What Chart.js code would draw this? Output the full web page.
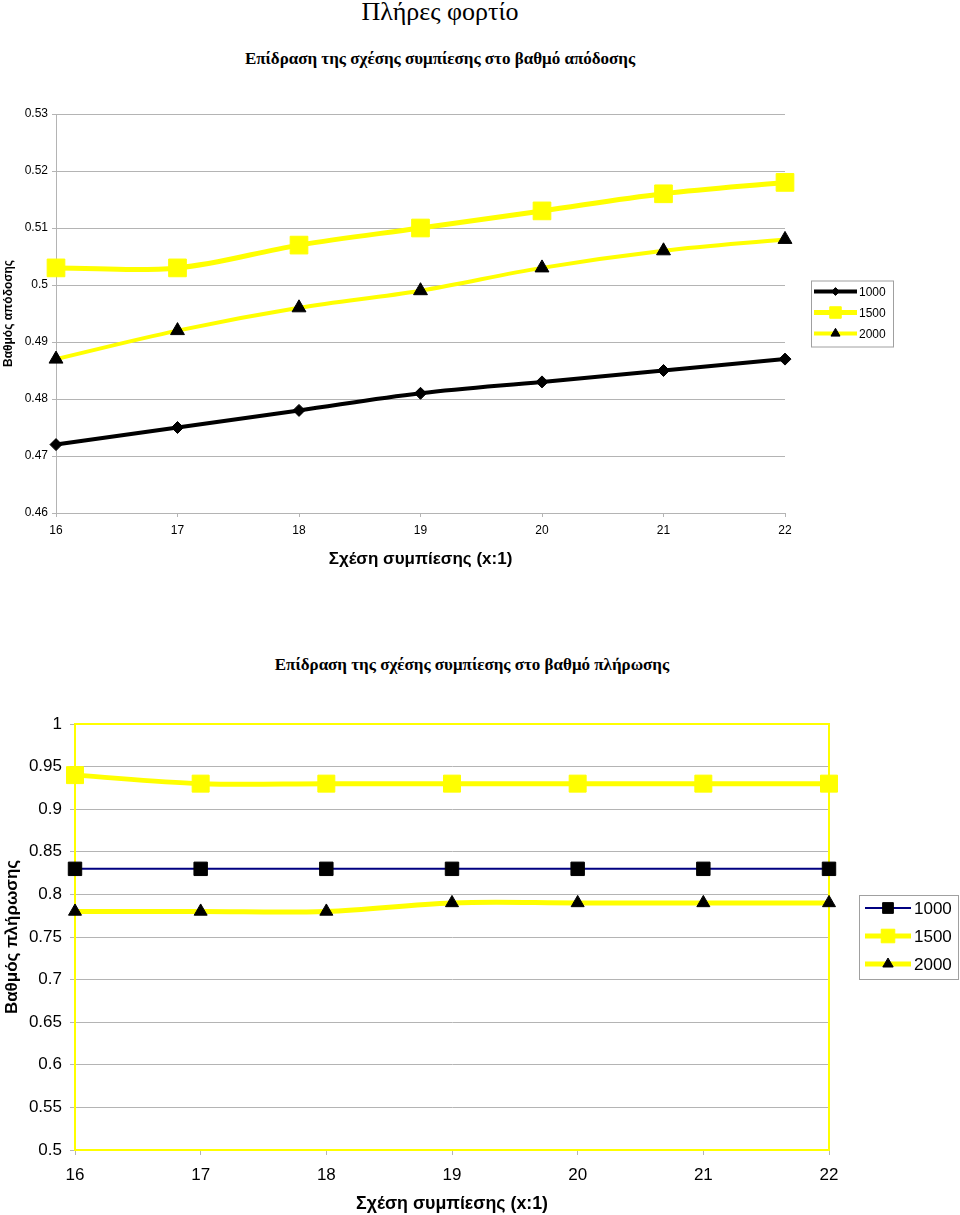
<!DOCTYPE html>
<html>
<head>
<meta charset="utf-8">
<title>Πλήρες φορτίο</title>
<script src="https://cdn.jsdelivr.net/npm/chart.js@4.4.0/dist/chart.umd.min.js"></script>
<style>
  body { margin: 0; background: #fff; width: 960px; height: 1215px; position: relative; overflow: hidden; }
  .ttl { position: absolute; left: 0; width: 880px; text-align: center; font-family: "Liberation Serif", "Times New Roman", serif; color: #000; white-space: nowrap; }
  #main { top: -1px; font-size: 26px; line-height: 26px; }
  #t1 { top: 50px; font-size: 17px; line-height: 17px; font-weight: bold; }
  #t2 { top: 656px; left: 32px; font-size: 17px; line-height: 17px; font-weight: bold; }
  canvas { position: absolute; left: 0; }
  #c1 { top: 0; }
  #c2 { top: 690px; }
</style>
</head>
<body>
<div class="ttl" id="main">Πλήρες φορτίο</div>
<div class="ttl" id="t1">Επίδραση της σχέσης συμπίεσης στο βαθμό απόδοσης</div>
<div class="ttl" id="t2">Επίδραση της σχέσης συμπίεσης στο βαθμό πλήρωσης</div>
<canvas id="c1" width="960" height="585"></canvas>
<canvas id="c2" width="960" height="525"></canvas>
<script>
// compression ratios (x:1)
const ratios = ['16', '17', '18', '19', '20', '21', '22'];
const seriesNames = ['1000', '1500', '2000'];

// efficiency (βαθμός απόδοσης)
const eff1000 = [0.472, 0.475, 0.478, 0.481, 0.483, 0.485, 0.487];
const eff1500 = [0.503, 0.503, 0.507, 0.510, 0.513, 0.516, 0.518];
const eff2000 = [0.487, 0.492, 0.496, 0.499, 0.503, 0.506, 0.508];

// volumetric efficiency (βαθμός πλήρωσης)
const fill1000 = [0.83, 0.83, 0.83, 0.83, 0.83, 0.83, 0.83];
const fill1500 = [0.94, 0.93, 0.93, 0.93, 0.93, 0.93, 0.93];
const fill2000 = [0.78, 0.78, 0.78, 0.79, 0.79, 0.79, 0.79];

const effRange = [0.46, 0.53, 0.01];
const fillRange = [0.5, 1, 0.05];

const YELLOW = '#ffff00';
const GRID = '#b4b4b4';
const SANS = '"Liberation Sans", Arial, sans-serif';

const fmt = v => String(+(+v).toFixed(2));

// legend box with line + marker, drawn to the right of the plot
const boxLegend = {
  id: 'boxLegend',
  afterDraw(chart, args, o) {
    const { ctx, chartArea } = chart;
    const sets = chart.data.datasets;
    const left = chartArea.right + o.gap;
    const top = (chartArea.top + chartArea.bottom) / 2 - o.h / 2;
    ctx.save();
    ctx.strokeStyle = '#a0a0a0';
    ctx.lineWidth = 1;
    ctx.strokeRect(left + 0.5, top + 0.5, o.w, o.h);
    sets.forEach((ds, i) => {
      const y = top + o.first + i * o.row;
      ctx.strokeStyle = ds.borderColor;
      ctx.lineWidth = ds.borderWidth;
      ctx.beginPath();
      ctx.moveTo(left + o.lineFrom, y);
      ctx.lineTo(left + o.lineTo, y);
      ctx.stroke();
      ctx.fillStyle = ds.pointBackgroundColor;
      ctx.strokeStyle = ds.pointBorderColor;
      ctx.lineWidth = 1;
      Chart.helpers.drawPoint(ctx, {
        pointStyle: ds.pointStyle, rotation: 0,
        radius: ds.pointRadius * o.markScale, borderWidth: 1
      }, left + (o.lineFrom + o.lineTo) / 2, y);
      ctx.fillStyle = '#000';
      ctx.font = o.font;
      ctx.textBaseline = 'middle';
      ctx.textAlign = 'left';
      ctx.fillText(ds.label, left + o.text, y + 1);
    });
    ctx.restore();
  }
};

// yellow frame round the plot area of the second chart
const plotFrame = {
  id: 'plotFrame',
  beforeDatasetsDraw(chart, args, o) {
    if (!o.color) return;
    const { ctx, chartArea: a } = chart;
    ctx.save();
    ctx.strokeStyle = o.color;
    ctx.lineWidth = o.width;
    ctx.strokeRect(a.left, a.top, a.right - a.left, a.bottom - a.top);
    ctx.restore();
  }
};

function mkSet(label, data, line, lw, style, r, fill) {
  return {
    label, data,
    borderColor: line, borderWidth: lw,
    pointStyle: style, pointRadius: r, pointHoverRadius: r,
    pointBackgroundColor: fill, pointBorderColor: fill, pointBorderWidth: 1,
    tension: 0.35, clip: false, fill: false
  };
}

function mkOptions(range, p) {
  return {
    responsive: false,
    animation: false,
    layout: { padding: { top: p.top, right: p.right, left: 0, bottom: 0 } },
    plugins: {
      legend: { display: false },
      tooltip: { enabled: false },
      boxLegend: p.legend,
      plotFrame: p.frame || {}
    },
    scales: {
      x: {
        type: 'category',
        offset: false,
        afterFit: s => { s.height = p.xH; },
        grid: { drawOnChartArea: false, drawTicks: true, tickLength: p.tick, color: GRID },
        border: { display: true, color: p.axisColor, width: p.axisW },
        ticks: { color: '#000', font: { family: SANS, size: p.fs }, padding: p.xPad, maxRotation: 0 },
        title: {
          display: true, text: 'Σχέση συμπίεσης (x:1)', color: '#000',
          font: { family: SANS, size: p.xTitleFs, weight: 'bold' },
          padding: { top: 0, bottom: p.xTitlePad }
        }
      },
      y: {
        min: range[0], max: range[1],
        afterFit: s => { s.width = p.yW; },
        grid: { color: GRID, lineWidth: 1, tickLength: p.tick },
        border: { display: true, color: p.axisColor, width: p.axisW },
        ticks: { stepSize: range[2], callback: fmt, color: '#000', font: { family: SANS, size: p.fs }, padding: p.yPad },
        title: {
          display: true, text: p.yTitle, color: '#000',
          font: { family: SANS, size: p.yTitleFs, weight: 'bold' },
          padding: { top: p.yTitlePad, bottom: 0 }
        }
      }
    }
  };
}

new Chart(document.getElementById('c1'), {
  type: 'line',
  data: {
    labels: ratios,
    datasets: [
      mkSet(seriesNames[0], eff1000, '#000000', 4, 'rectRot', 6, '#000000'),
      mkSet(seriesNames[1], eff1500, YELLOW, 5, 'rect', 12.5, YELLOW),
      mkSet(seriesNames[2], eff2000, YELLOW, 4, 'triangle', 8, '#000000')
    ]
  },
  options: mkOptions(effRange, {
    top: 114, right: 175, xH: 72, yW: 56, tick: 4, fs: 12,
    xPad: 6, yPad: 4, axisColor: GRID, axisW: 1,
    xTitleFs: 17, xTitlePad: 15,
    yTitle: 'Βαθμός απόδοσης', yTitleFs: 12, yTitlePad: 1,
    legend: { gap: 26, w: 82, h: 66, first: 11, row: 21, lineFrom: 3, lineTo: 46, text: 48,
              markScale: 0.65, font: '12px ' + SANS }
  }),
  plugins: [boxLegend, plotFrame]
});

new Chart(document.getElementById('c2'), {
  type: 'line',
  data: {
    labels: ratios,
    datasets: [
      mkSet(seriesNames[0], fill1000, '#000080', 2, 'rect', 9.5, '#000000'),
      mkSet(seriesNames[1], fill1500, YELLOW, 5, 'rect', 12, YELLOW),
      mkSet(seriesNames[2], fill2000, YELLOW, 5, 'triangle', 7.5, '#000000')
    ]
  },
  options: mkOptions(fillRange, {
    top: 34, right: 131, xH: 65, yW: 75, tick: 5, fs: 17,
    xPad: 10, yPad: 8, axisColor: YELLOW, axisW: 2,
    xTitleFs: 17.8, xTitlePad: 0,
    yTitle: 'Βαθμός πλήρωσης', yTitleFs: 17, yTitlePad: 2,
    legend: { gap: 30, w: 99, h: 84, first: 13, row: 28, lineFrom: 6, lineTo: 52, text: 55,
              markScale: 0.8, font: '17px ' + SANS },
    frame: { color: YELLOW, width: 2 }
  }),
  plugins: [boxLegend, plotFrame]
});
</script>
</body>
</html>
